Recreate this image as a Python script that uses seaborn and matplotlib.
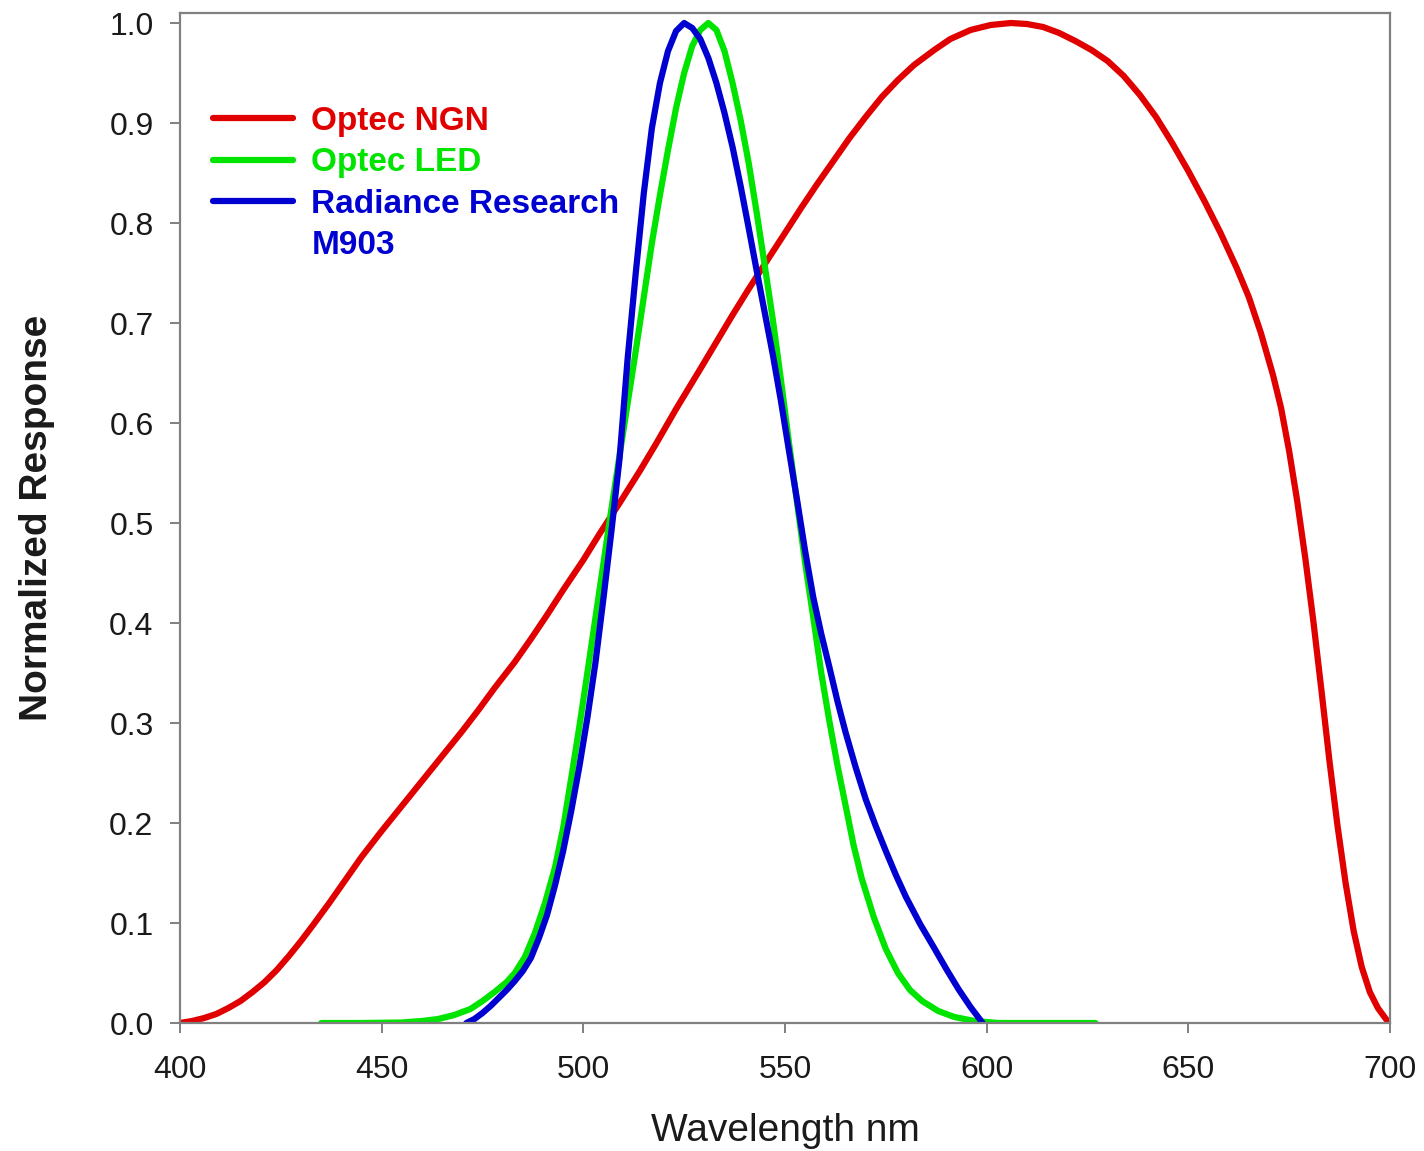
import numpy as np
import pandas as pd
import matplotlib
matplotlib.use("Agg")
import matplotlib.pyplot as plt
import seaborn as sns

# values (wavelength nm, normalized response)
ngn_wl = [400, 403, 406, 409, 412, 415, 418, 421, 424, 427, 430, 433, 437, 441,
          445, 450, 454, 458, 462, 466, 470, 474, 478, 483, 487, 491, 495, 500,
          504, 509, 514, 518, 523, 529, 533, 537, 541, 545, 550, 554, 558, 562,
          566, 570, 574, 578, 582, 587, 591, 596, 601, 606, 610, 614, 618, 622,
          626, 630, 634, 638, 642, 646, 650, 654, 658, 662, 665, 668, 671, 673,
          675, 677, 679, 681, 683, 685, 687, 689, 691, 693, 695, 697, 699, 700]
ngn_resp = [0.0, 0.002, 0.005, 0.009, 0.015, 0.022, 0.031, 0.041, 0.053, 0.067,
            0.082, 0.098, 0.12, 0.143, 0.166, 0.192, 0.212, 0.232, 0.252, 0.272,
            0.292, 0.313, 0.335, 0.361, 0.384, 0.408, 0.433, 0.463, 0.489, 0.52,
            0.552, 0.579, 0.614, 0.654, 0.681, 0.708, 0.734, 0.759, 0.79, 0.815,
            0.839, 0.862, 0.885, 0.906, 0.926, 0.943, 0.958, 0.973, 0.984, 0.993,
            0.998, 1.0, 0.999, 0.996, 0.99, 0.982, 0.973, 0.962, 0.947, 0.928,
            0.906, 0.88, 0.852, 0.822, 0.79, 0.755, 0.726, 0.69, 0.648, 0.615,
            0.572, 0.522, 0.465, 0.402, 0.333, 0.262, 0.197, 0.14, 0.092, 0.056,
            0.031, 0.015, 0.004, 0.0]

led_wl = [435, 445, 455, 460, 464, 468, 472, 475, 478, 481, 483, 485.5, 488,
          490.5, 493, 495, 497, 499, 501, 503, 505, 507, 509, 511, 513, 515, 517,
          519, 521, 523, 525, 527, 529, 531, 533, 535, 537, 539, 541, 543, 545,
          547, 549, 551, 553, 555, 557, 559, 561, 563, 565, 567, 569, 572, 575,
          578, 581, 584, 588, 592, 597, 603, 627]
led_resp = [0.0, 0.0, 0.0005, 0.002, 0.004, 0.008, 0.014, 0.022, 0.031, 0.041,
            0.05, 0.066, 0.09, 0.12, 0.156, 0.195, 0.245, 0.296, 0.35, 0.405,
            0.46, 0.515, 0.568, 0.62, 0.672, 0.726, 0.78, 0.828, 0.873, 0.915,
            0.95, 0.977, 0.993, 1.0, 0.993, 0.972, 0.94, 0.903, 0.86, 0.81,
            0.757, 0.703, 0.643, 0.58, 0.52, 0.46, 0.406, 0.35, 0.302, 0.258,
            0.218, 0.178, 0.145, 0.106, 0.074, 0.05, 0.033, 0.022, 0.012, 0.006,
            0.002, 0.0, 0.0]

m903_wl = [471, 473, 475, 477, 479, 481, 483, 485, 487, 489, 491, 493, 495, 497,
           499, 501, 503, 505, 507, 509, 511, 513, 515, 517, 519, 521, 523, 525,
           527, 529, 531, 533, 535, 537, 539, 541, 543, 545, 547, 549, 551, 553,
           555, 557, 559, 561, 563, 565, 567.5, 570, 572.5, 575, 577.5, 580,
           583.5, 587, 590, 593, 596, 599]
m903_resp = [0.0, 0.004, 0.01, 0.017, 0.025, 0.033, 0.042, 0.052, 0.065, 0.085,
             0.108, 0.138, 0.172, 0.212, 0.256, 0.305, 0.36, 0.425, 0.493, 0.565,
             0.665, 0.75, 0.83, 0.895, 0.94, 0.972, 0.992, 1.0, 0.995, 0.984,
             0.965, 0.94, 0.91, 0.876, 0.837, 0.795, 0.752, 0.71, 0.668, 0.622,
             0.572, 0.523, 0.472, 0.426, 0.389, 0.356, 0.322, 0.291, 0.256, 0.224,
             0.197, 0.172, 0.148, 0.126, 0.099, 0.075, 0.054, 0.034, 0.016, 0.0]

labels = ["Optec NGN", "Optec LED", "Radiance Research"]
colors = ["#E00000", "#00E400", "#0000D0"]

df = pd.concat([
    pd.DataFrame({"wl": ngn_wl, "resp": ngn_resp, "sensor": labels[0]}),
    pd.DataFrame({"wl": led_wl, "resp": led_resp, "sensor": labels[1]}),
    pd.DataFrame({"wl": m903_wl, "resp": m903_resp, "sensor": labels[2]}),
])

sns.set_style("white")
plt.rcParams["font.family"] = ["Liberation Sans", "DejaVu Sans"]

fig = plt.figure(figsize=(14.24, 11.51), dpi=100)
ax = fig.add_axes([0.1264, 0.1112, 0.8497, 0.8775])

sns.lineplot(data=df, x="wl", y="resp", hue="sensor", hue_order=labels,
             palette=colors, linewidth=4.5, ax=ax, legend=False)
for ln in ax.get_lines():
    ln.set_solid_joinstyle("round")
    ln.set_solid_capstyle("round")

ax.set_xlim(400, 700)
ax.set_ylim(0, 1.01)
ax.set_xticks([400, 450, 500, 550, 600, 650, 700])
yt = np.arange(0, 11) / 10
ax.set_yticks(yt)
ax.set_yticklabels([f"{v:.1f}" for v in yt])

for s in ax.spines.values():
    s.set_color("#808080")
    s.set_linewidth(1.6)
ax.tick_params(axis="both", direction="out", length=7, width=1.4,
               color="#808080", labelsize=23, labelcolor="#1a1a1a",
               left=True, bottom=True)
ax.tick_params(axis="y", pad=12)
ax.tick_params(axis="x", pad=16)

ax.set_xlabel("Wavelength nm", fontsize=28, labelpad=20, color="#1a1a1a")
ax.set_ylabel("Normalized Response", fontsize=28, fontweight="bold",
              labelpad=39, color="#1a1a1a")

# legend: second line of the last label sits under it without a handle
handles = [plt.Line2D([], [], color=c, lw=4.5, solid_capstyle="round") for c in colors]
handles.append(plt.Line2D([], [], color=colors[2], linestyle="none"))
leg = ax.legend(handles, labels + ["M903"], loc="upper left",
                bbox_to_anchor=(0.0273, 0.908),
                frameon=False, handlelength=2.4, handletextpad=0.55,
                labelspacing=0.31, borderpad=0, borderaxespad=0,
                labelcolor="linecolor",
                prop={"size": 24, "weight": "bold"})

fig.savefig("out.png", dpi=100)
